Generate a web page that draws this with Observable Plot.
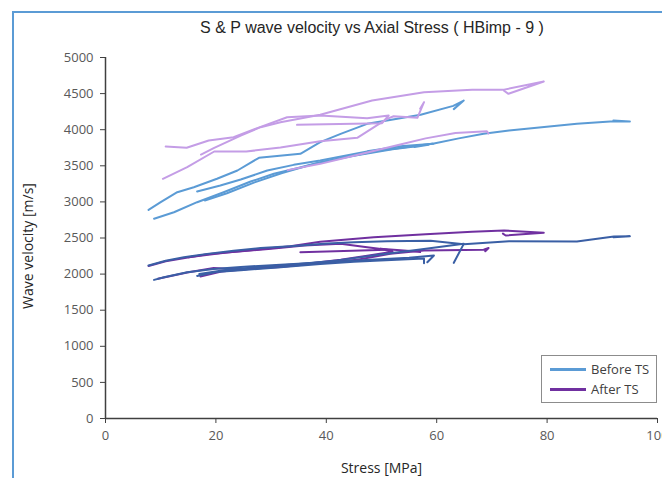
<!DOCTYPE html>
<html>
<head>
<meta charset="utf-8">
<script src="https://cdn.jsdelivr.net/npm/d3@7"></script>
<script src="https://cdn.jsdelivr.net/npm/@observablehq/plot@0.6"></script>
<style>
  html, body { margin: 0; padding: 0; background: #fff; overflow: hidden; }
  #wrap { position: relative; width: 662px; height: 478px; }
  #frame { position: absolute; left: 12px; top: 11px; width: 700px; height: 500px;
           border-left: 2px solid #5B9BD5; border-top: 2px solid #5B9BD5; z-index: 5; pointer-events: none; }
  #title { position: absolute; left: 0; top: 19px; width: 744px; text-align: center;
           font-family: "Liberation Sans", Arial, sans-serif; font-size: 16px; color: #262626; z-index: 4; }
  #legend { position: absolute; left: 541px; top: 355px; width: 114px; height: 46px;
            border: 1px solid #8c8c8c; background: #fff; z-index: 4;
            font-family: "Open Sans", sans-serif; font-size: 13px; color: #404040; }
  .lg { position: absolute; left: 8px; height: 18px; display: flex; align-items: center; }
  .sw { width: 36px; height: 3px; margin-right: 5px; }
</style>
</head>
<body>
<div id="wrap">
  <div id="frame"></div>
  <div id="title">S &amp; P wave velocity vs Axial Stress ( HBimp - 9 )</div>
  <div id="legend">
    <div class="lg" style="top:4px"><div class="sw" style="background:#5B9BD5"></div>Before TS</div>
    <div class="lg" style="top:24px"><div class="sw" style="background:#7030A0"></div>After TS</div>
  </div>
</div>
<script>
// ---- data: [stress MPa, velocity m/s] ----
const xTicks = [0, 20, 40, 60, 80, 100];
const yTicks = [0, 500, 1000, 1500, 2000, 2500, 3000, 3500, 4000, 4500, 5000];

// P-wave, before TS
const pBefore1 = [[7.8,2890],[10,2996],[13,3134],[16,3203],[20.2,3320],[23.9,3435],[27.8,3611],[35.3,3666],[38.9,3827],[42.6,3943],[47.4,4081],[51,4127],[57.1,4206],[63,4330],[64.9,4404],[63.1,4285]];
const pBefore2 = [[8.8,2766],[12.4,2857],[16.6,2996],[21.4,3134],[26.3,3282],[30.5,3389],[34.7,3467],[38.9,3550],[44,3630],[49.8,3712],[55,3765],[59.5,3808],[64,3880],[68.5,3943],[73.1,3989],[85.4,4082],[92.1,4118],[95,4113],[92,4127]];
const pBefore3 = [[16.6,3144],[20.8,3227],[24.5,3310],[29.3,3435],[34.1,3513],[38.9,3573],[47.4,3700],[53.4,3770],[59.4,3805],[57.5,3790]];
const pBefore4 = [[18,3020],[22,3120],[27,3270],[32,3400],[38,3530],[45,3640],[52,3730],[58.5,3790],[56,3760]];

// P-wave, after TS
const pAfter1 = [[17.3,3656],[19.6,3744],[24.5,3919],[28.1,4035],[31.7,4104],[38.9,4206],[48.3,4404],[57.7,4520],[66.4,4555],[72.2,4555],[79.4,4668],[73,4497],[72.2,4540]];
const pAfter2 = [[10.9,3767],[14.7,3749],[18.7,3850],[23.2,3896],[27.5,4021],[32.9,4173],[38.9,4197],[47.4,4160],[51.3,4197],[50.1,4090],[34.7,4067]];
const pAfter3 = [[10.4,3320],[14.8,3481],[19.7,3698],[25.5,3698],[31.7,3753],[38.9,3841],[45.6,3888],[51,4150],[52.2,4187],[56.5,4164],[57.7,4381],[57,4290]];
const pAfter4 = [[33,3440],[38.9,3527],[45,3640],[53.4,3795],[58,3880],[63.4,3955],[69.1,3977],[69.4,3947]];

// S-wave, before TS
const sBefore1 = [[7.8,2120],[10.9,2185],[14.2,2234],[18.4,2280],[23.2,2325],[28.1,2360],[33.5,2385],[40.2,2425],[45,2440],[51,2455],[58.9,2462],[64.9,2415],[73.1,2455],[85.4,2452],[92.1,2520],[95,2525],[92,2512]];
const sBefore2 = [[8.8,1920],[10.6,1957],[14.8,2026],[19.6,2070],[24.5,2100],[31.7,2130],[38.9,2160],[48,2198],[55,2228],[59.5,2258],[58.3,2165]];
const sBefore3 = [[16.6,1975],[20,2030],[24.5,2055],[31.7,2096],[38.9,2140],[45,2170],[49.8,2190],[57.7,2215],[57.7,2151]];
const sBefore4 = [[17,2000],[22,2060],[28,2100],[35,2140],[42,2190],[49.8,2270],[57,2340],[64.9,2419],[63.1,2156]];

// S-wave, after TS
const sAfter1 = [[7.8,2112],[10.9,2178],[18.4,2275],[27.5,2340],[33.5,2385],[38.9,2448],[48.6,2511],[58,2553],[66.4,2588],[72.2,2604],[79.4,2572],[72.5,2535],[72,2560]];
const sAfter2 = [[9.5,1935],[14.8,2022],[19.6,2085],[24.5,2065],[31.7,2100],[38.9,2155],[45.6,2200],[51.6,2281],[57.7,2327],[68.5,2338],[69.4,2362],[68.8,2317]];
const sAfter3 = [[17.2,1967],[21,2035],[28,2085],[35,2130],[42.6,2200],[48,2260],[52,2310],[49.8,2350],[55.8,2317],[57,2305]];
const sAfter4 = [[15,2235],[22,2300],[30,2350],[36,2395],[42.6,2420],[47.4,2372],[51,2336],[35.3,2303]];

const groups = [
  {name: "pBefore", color: "#5B9BD5", series: [pBefore1, pBefore2, pBefore3, pBefore4]},
  {name: "pAfter",  color: "#C49DE6", series: [pAfter1, pAfter2, pAfter3, pAfter4]},
  {name: "sAfter",  color: "#7030A0", series: [sAfter1, sAfter2, sAfter3, sAfter4]},
  {name: "sBefore", color: "#3A5FA5", series: [sBefore1, sBefore2, sBefore3, sBefore4]}
];

const lineMarks = groups.map(g => {
  const rows = [];
  g.series.forEach((arr, i) => arr.forEach(([s, v]) => rows.push({s, v, id: g.name + i})));
  return Plot.line(rows, {x: "s", y: "v", z: "id", stroke: g.color, strokeWidth: 2, strokeLinejoin: "round", strokeLinecap: "round"});
});

const plot = Plot.plot({
  width: 662,
  height: 478,
  marginLeft: 105,
  marginRight: 5,
  marginTop: 57,
  marginBottom: 60,
  style: {fontFamily: "'Open Sans', sans-serif", fontSize: "13px", color: "#595959", background: "transparent"},
  x: {domain: [0, 100]},
  y: {domain: [0, 5000]},
  marks: [
    Plot.axisX({ticks: xTicks, tickFormat: d => String(d), tickSize: 5, tickPadding: 7, label: null, stroke: "#404040", fontSize: 13}),
    Plot.axisY({ticks: yTicks, tickFormat: d => String(d), tickSize: 5, tickPadding: 7, label: null, stroke: "#404040", fontSize: 13}),
    Plot.ruleX([0], {stroke: "#404040", strokeWidth: 1.5}),
    Plot.ruleY([0], {stroke: "#404040", strokeWidth: 1.5}),
    ...lineMarks,
    Plot.text(["Wave velocity [m/s]"], {frameAnchor: "left", dx: -77, dy: 8, rotate: -90, fontSize: 14, fill: "#262626", textAnchor: "middle"}),
    Plot.text(["Stress [MPa]"], {frameAnchor: "bottom", dx: 0, dy: 50, fontSize: 14, fill: "#262626", textAnchor: "middle", lineAnchor: "middle"})
  ]
});
plot.style.position = "absolute";
plot.style.left = "0px";
plot.style.top = "0px";
document.getElementById("wrap").appendChild(plot);
</script>
</body>
</html>
